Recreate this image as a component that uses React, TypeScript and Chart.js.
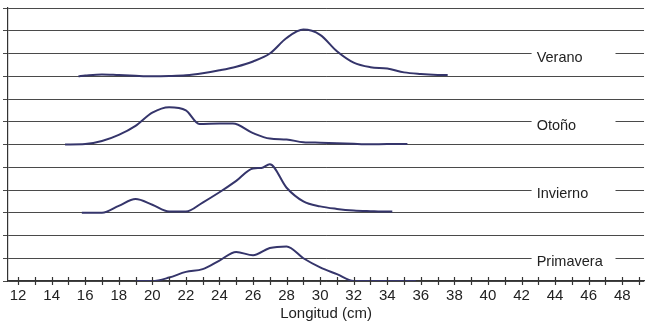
import React, { useEffect, useRef } from 'react';
import { Chart, registerables } from 'chart.js';

Chart.register(...registerables);

// Season names and their baseline row (in gridline units)
const seasonNames = ['Verano', 'Otoño', 'Invierno', 'Primavera'];
const seasonBaselines = [9, 6, 3, 0];

// Length (cm) and relative frequency for each season
const veranoX = [15.6, 16, 17, 18, 19, 20, 21, 22, 23, 24, 25, 26, 27, 28, 29, 30, 31, 32, 33, 34, 35, 36, 37, 37.6];
const veranoY = [0, 0.03, 0.08, 0.05, 0.02, 0, 0.01, 0.04, 0.13, 0.26, 0.42, 0.65, 1.0, 1.68, 2.05, 1.82, 1.1, 0.6, 0.4, 0.34, 0.17, 0.1, 0.06, 0.05];

const otonoX = [14.8, 16, 17, 18, 19, 20, 21, 22, 22.8, 24, 24.8, 26, 27, 28, 29, 30, 31, 32, 33, 34, 35.2];
const otonoY = [0, 0.02, 0.15, 0.42, 0.82, 1.4, 1.64, 1.5, 0.9, 0.92, 0.92, 0.5, 0.26, 0.22, 0.1, 0.08, 0.06, 0.03, 0.01, 0.02, 0.02];

const inviernoX = [15.8, 17, 18, 19, 20, 21, 22, 23, 24, 25, 26, 26.5, 27, 28, 29, 30, 31, 32, 33, 34, 34.3];
const inviernoY = [0, 0, 0.3, 0.6, 0.35, 0.05, 0.05, 0.45, 0.9, 1.4, 1.95, 1.97, 2.13, 1.1, 0.5, 0.28, 0.17, 0.1, 0.07, 0.05, 0.05];

const primaveraX = [19, 20, 21, 22, 23, 24, 25, 26, 27, 28, 29, 30, 31, 32, 33, 34, 35, 35.7];
const primaveraY = [0, 0, 0.15, 0.4, 0.52, 0.9, 1.28, 1.13, 1.45, 1.52, 1.0, 0.6, 0.3, 0, 0, 0, 0, 0];

const seriesX = [veranoX, otonoX, inviernoX, primaveraX];
const seriesY = [veranoY, otonoY, inviernoY, primaveraY];

// Axis ticks
const xTickValues = [12, 13, 14, 15, 16, 17, 18, 19, 20, 21, 22, 23, 24, 25, 26, 27, 28, 29, 30, 31, 32, 33, 34, 35, 36, 37, 38, 39, 40, 41, 42, 43, 44, 45, 46, 47, 48, 49];
const xTickLabels = ['12', '14', '16', '18', '20', '22', '24', '26', '28', '30', '32', '34', '36', '38', '40', '42', '44', '46', '48'];
const xAxisTitle = 'Longitud (cm)';

const LINE_COLOR = '#35356b';
const GRID_COLOR = '#4a4a4a';
const TEXT_COLOR = '#222222';
const FONT = '"Liberation Sans", Arial, sans-serif';

const decorPlugin = {
  id: 'decor',
  beforeDatasetsDraw(chart: any) {
    const { ctx, scales } = chart;
    const xs = scales.x;
    const ys = scales.y;
    ctx.save();
    const gapL = xs.getPixelForValue(42.6);
    const gapR = xs.getPixelForValue(47.6);
    const textX = xs.getPixelForValue(42.9);
    ctx.font = `14.5px ${FONT}`;
    ctx.textBaseline = 'middle';
    ctx.textAlign = 'left';
    seasonNames.forEach((name, i) => {
      const yy = ys.getPixelForValue(seasonBaselines[i] + 1);
      ctx.fillStyle = '#ffffff';
      ctx.fillRect(gapL, yy - 2, gapR - gapL, 4);
      ctx.fillStyle = TEXT_COLOR;
      ctx.fillText(name, textX, yy + 4);
    });
    ctx.restore();
  },
  afterDraw(chart: any) {
    const { ctx, scales, chartArea } = chart;
    const xs = scales.x;
    ctx.save();
    ctx.strokeStyle = '#333333';
    ctx.lineWidth = 1.2;
    xTickValues.forEach((v) => {
      const px = Math.round(xs.getPixelForValue(v)) + 0.5;
      ctx.beginPath();
      ctx.moveTo(px, chartArea.bottom - 4);
      ctx.lineTo(px, chartArea.bottom + 4);
      ctx.stroke();
    });
    ctx.restore();
  },
};

export default function App() {
  const ref = useRef<HTMLCanvasElement | null>(null);

  useEffect(() => {
    if (!ref.current) return;
    const datasets = seasonNames.map((name, i) => ({
      label: name,
      data: seriesX[i].map((x, k) => ({ x, y: seasonBaselines[i] + seriesY[i][k] })),
      borderColor: LINE_COLOR,
      borderWidth: 2,
      pointRadius: 0,
      fill: false,
      cubicInterpolationMode: 'monotone' as const,
    }));
    const chart = new Chart(ref.current, {
      type: 'line',
      data: { datasets },
      plugins: [decorPlugin],
      options: {
        animation: false,
        responsive: false,
        layout: { padding: { left: 3, top: 8, right: 0, bottom: 2 } },
        plugins: { legend: { display: false }, tooltip: { enabled: false } },
        scales: {
          x: {
            type: 'linear',
            min: 11.4,
            max: 49.3,
            afterBuildTicks: (s: any) => {
              s.ticks = xTickValues.map((v) => ({ value: v }));
            },
            ticks: {
              autoSkip: false,
              maxRotation: 0,
              padding: 6,
              color: TEXT_COLOR,
              font: { family: FONT, size: 15 },
              callback: (v: any) => (xTickLabels.includes(String(v)) ? String(v) : ''),
            },
            grid: { display: false, drawTicks: false },
            border: { display: true, color: '#333333', width: 1.2 },
            title: {
              display: true,
              text: xAxisTitle,
              color: TEXT_COLOR,
              font: { family: FONT, size: 15 },
              padding: { top: -6, bottom: 0 },
            },
          },
          y: {
            type: 'linear',
            min: 0,
            max: 12,
            ticks: { stepSize: 1, display: false },
            grid: { color: GRID_COLOR, lineWidth: 1, drawTicks: true, tickLength: 5 },
            border: { display: true, color: '#333333', width: 1.2 },
          },
        },
      },
    });
    return () => chart.destroy();
  }, []);

  return (
    <div style={{ position: 'absolute', left: 0, top: 0, width: 645, height: 325, background: '#fff' }}>
      <canvas ref={ref} width={645} height={325} />
    </div>
  );
}
